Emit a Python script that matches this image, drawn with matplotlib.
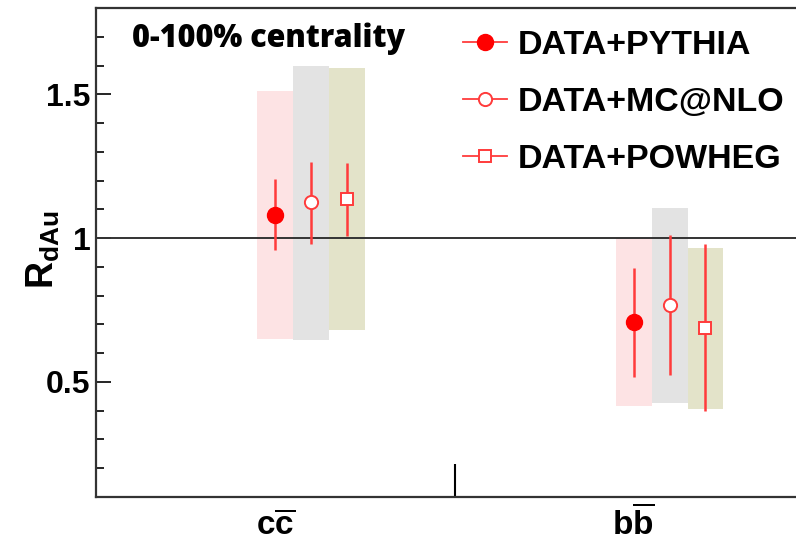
import numpy as np
import matplotlib
matplotlib.use("Agg")
import matplotlib.pyplot as plt
from matplotlib.lines import Line2D

plt.rcParams['font.family'] = ['Liberation Sans', 'DejaVu Sans']
plt.rcParams['font.weight'] = 'bold'
plt.rcParams['mathtext.fontset'] = 'custom'
plt.rcParams['mathtext.rm'] = 'Liberation Sans:bold'
plt.rcParams['mathtext.bf'] = 'Liberation Sans:bold'
plt.rcParams['mathtext.it'] = 'Liberation Sans:bold'

# pair categories
categories = [r'$\mathbf{c\overline{c}}$', r'$\mathbf{b\overline{b}}$']
models = ['DATA+PYTHIA', 'DATA+MC@NLO', 'DATA+POWHEG']

# R_dAu central values, stat range, syst range for (cc, bb)
pythia_val = [1.08, 0.71]
pythia_stat_lo = [0.957, 0.518]
pythia_stat_hi = [1.206, 0.897]
pythia_sys_lo = [0.65, 0.416]
pythia_sys_hi = [1.51, 1.00]

mcnlo_val = [1.125, 0.767]
mcnlo_stat_lo = [0.98, 0.523]
mcnlo_stat_hi = [1.265, 1.012]
mcnlo_sys_lo = [0.645, 0.428]
mcnlo_sys_hi = [1.60, 1.105]

powheg_val = [1.135, 0.689]
powheg_stat_lo = [1.008, 0.399]
powheg_stat_hi = [1.26, 0.979]
powheg_sys_lo = [0.68, 0.407]
powheg_sys_hi = [1.59, 0.966]

fig = plt.figure(figsize=(7.96, 5.45), dpi=100)
# right edge of the frame runs past the canvas
ax = fig.add_axes([96/796, 48/545, 717/796, 489/545])

centers = np.array([0.5, 1.5])
red = '#ff3b3b'
series = [
    (pythia_val, pythia_stat_lo, pythia_stat_hi, pythia_sys_lo, pythia_sys_hi,
     '#fde3e4', dict(marker='o', ms=11.5, mfc='red', mec='red')),
    (mcnlo_val, mcnlo_stat_lo, mcnlo_stat_hi, mcnlo_sys_lo, mcnlo_sys_hi,
     '#e3e3e3', dict(marker='o', ms=9.5, mfc='white', mec=red, mew=1.4)),
    (powheg_val, powheg_stat_lo, powheg_stat_hi, powheg_sys_lo, powheg_sys_hi,
     '#e3e3c9', dict(marker='s', ms=8.5, mfc='white', mec=red, mew=1.4)),
]

for i, (val, slo, shi, ylo, yhi, col, mk) in enumerate(series):
    x = centers + 0.1 * i
    val = np.array(val)
    ylo = np.array(ylo)
    yhi = np.array(yhi)
    ax.bar(x, yhi - ylo, bottom=ylo, width=0.1, color=col, zorder=1, linewidth=0)
    err = [val - np.array(slo), np.array(shi) - val]
    ax.errorbar(x, val, yerr=err, fmt='none', ecolor=red, elinewidth=1.8, capsize=0, zorder=4)
    ax.plot(x, val, ls='none', zorder=5, **mk)

ax.axhline(1.0, color='#333333', lw=1.4, zorder=3)

ax.set_xlim(0, 2)
ax.set_ylim(0.1, 1.8)
ax.set_yticks([0.5, 1.0, 1.5])
ax.set_yticklabels(['0.5', '1', '1.5'])
ax.set_yticks(np.arange(0.2, 1.8, 0.1), minor=True)
ax.tick_params(axis='y', which='major', direction='in', length=11, width=1.2, labelsize=23, pad=4)
ax.tick_params(axis='y', which='minor', direction='in', length=5.5, width=1.2)
ax.set_xticks([1.0])
ax.set_xticklabels([''])
ax.tick_params(axis='x', which='major', direction='in', length=24, width=1.5)
for t in ax.get_yticklabels():
    t.set_fontweight('bold')

for s in ['left', 'bottom', 'top']:
    ax.spines[s].set_linewidth(1.6)
    ax.spines[s].set_color('#333333')
ax.spines['right'].set_visible(False)

for c, lab in zip(centers, categories):
    ax.text(c, -38/489, lab, transform=ax.get_xaxis_transform(), ha='center', va='baseline',
            fontsize=24)

ax.set_ylabel(r'$\mathbf{R_{dAu}}$', fontsize=27)
ax.yaxis.set_label_coords(-0.047, 0.505)

ax.text(36/717, 1 - 31/489, '0-100% centrality', transform=ax.transAxes,
        family=['Open Sans', 'DejaVu Sans'], fontsize=22, fontweight='heavy',
        ha='left', va='center')

handles = []
for (val, slo, shi, ylo, yhi, col, mk) in series:
    handles.append(Line2D([], [], color=red, lw=1.3, **mk))
ax.legend(handles, models, loc='upper left', bbox_to_anchor=(463/796, 1 - 30/545),
          bbox_transform=fig.transFigure, frameon=False, borderpad=0, borderaxespad=0,
          handlelength=1.3, handletextpad=0.3, labelspacing=0.76,
          prop={'weight': 'bold', 'size': 24.5})

fig.savefig('out.png', dpi=100)
